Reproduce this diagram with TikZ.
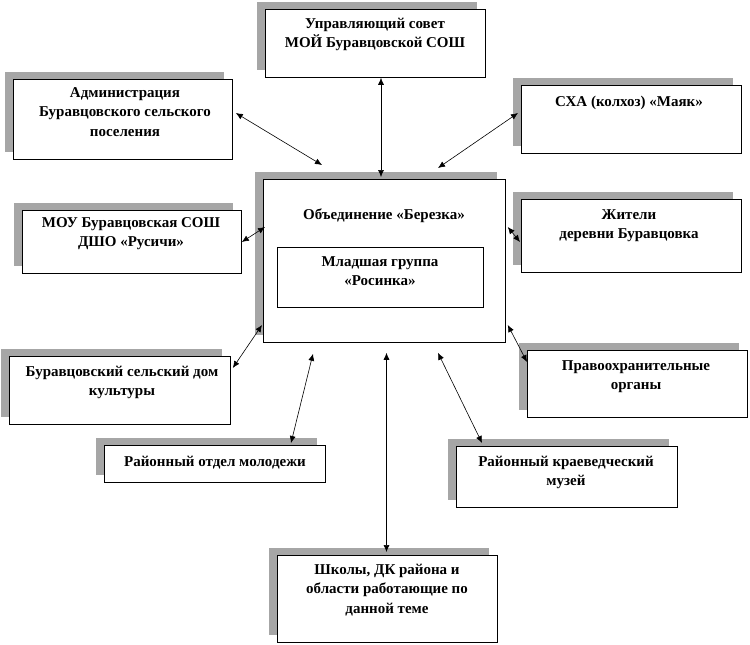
\documentclass[tikz,border=0pt]{standalone}
\usepackage{fontspec}
\setmainfont{Liberation Serif}
\usetikzlibrary{arrows.meta,calc,shadows}
\newcommand\ml[1]{\begin{tabular}[t]{@{}c@{}}#1\end{tabular}}
\tikzset{
  sbox/.style={draw=black, line width=0.8pt, fill=white, rectangle, inner sep=0pt, anchor=north west,
    drop shadow={shadow xshift=-8pt, shadow yshift=7pt, opacity=1, fill=black!35}},
  ibox/.style={draw=black, line width=0.8pt, fill=white, rectangle, inner sep=0pt, anchor=north west},
  txt/.style={inner sep=0pt, anchor=base, font=\bfseries\fontsize{15}{19.5}\selectfont},
  link/.style={line width=0.6pt, {Latex[length=7pt,width=6pt]}-{Latex[length=7pt,width=6pt]}}
}
\begin{document}
\begin{tikzpicture}[x=1pt,y=-1pt]
\useasboundingbox (0,0) rectangle (750,645);
% boxes
\node[sbox, minimum width=220, minimum height=68] (upr) at (265,9) {};
\node[sbox, minimum width=219, minimum height=80] (adm) at (13,79) {};
\node[sbox, minimum width=220, minimum height=68] (sxa) at (521,85) {};
\node[sbox, minimum width=242, minimum height=163] (cen) at (263,179) {};
\node[ibox, minimum width=206, minimum height=60] (inn) at (277,247) {};
\node[sbox, minimum width=219, minimum height=63] (mou) at (22,210) {};
\node[sbox, minimum width=220, minimum height=73] (zhi) at (521,199) {};
\node[sbox, minimum width=221, minimum height=68] (dom) at (9,356) {};
\node[sbox, minimum width=220, minimum height=67] (prav) at (527,350) {};
\node[sbox, minimum width=221, minimum height=37] (otd) at (104,445) {};
\node[sbox, minimum width=221, minimum height=61] (muz) at (456,446) {};
\node[sbox, minimum width=220, minimum height=87] (shk) at (277,555) {};
% texts
\node[txt] (tupr) at (375,28) {\ml{Управляющий совет\\МОЙ Буравцовской СОШ}};
\node[txt] (tadm) at (125,97) {\ml{Администрация\\Буравцовского сельского\\поселения}};
\node[txt] (tsxa) at (629,106) {СХА (колхоз) «Маяк»};
\node[txt] (tcen) at (384,219) {Объединение «Березка»};
\node[txt] (tinn) at (380,266) {\ml{Младшая группа\\«Росинка»}};
\node[txt] (tmou) at (131,227) {\ml{МОУ Буравцовская СОШ\\ДШО «Русичи»}};
\node[txt] (tzhi) at (629,219) {\ml{Жители\\деревни Буравцовка}};
\node[txt] (tdom) at (122,376) {\ml{Буравцовский сельский дом\\культуры}};
\node[txt] (tprav) at (636,370) {\ml{Правоохранительные\\органы}};
\node[txt] (totd) at (215,466) {Районный отдел молодежи};
\node[txt] (tmuz) at (566,466) {\ml{Районный краеведческий\\музей}};
\node[txt] (tshk) at (387,574) {\ml{Школы, ДК района и\\области работающие по\\данной теме}};
% connectors
\draw[link] ($(upr.south west)+(116,0)$) -- ($(cen.north west)+(118,-2)$);
\draw[link] ($(adm.north east)+(3,34)$) -- ($(cen.north west)+(59,-14)$);
\draw[link] ($(sxa.north west)+(-3,28)$) -- ($(cen.north west)+(175,-11)$);
\draw[link] ($(mou.north east)+(0,32)$) -- ($(cen.north west)+(2,48)$);
\draw[link] ($(dom.north east)+(2,12)$) -- ($(cen.north west)+(-1,146)$);
\draw[link] ($(zhi.north west)+(-1,43)$) -- ($(cen.north east)+(2,48)$);
\draw[link] ($(prav.north west)+(0,12)$) -- ($(cen.north east)+(2,146)$);
\draw[link] ($(otd.north west)+(187,-2)$) -- ($(cen.south west)+(50,11)$);
\draw[link] ($(shk.north west)+(109.5,-3)$) -- ($(cen.south west)+(123.5,10)$);
\draw[link] ($(muz.north west)+(26,-3)$) -- ($(cen.south west)+(175,10)$);
\end{tikzpicture}
\end{document}
